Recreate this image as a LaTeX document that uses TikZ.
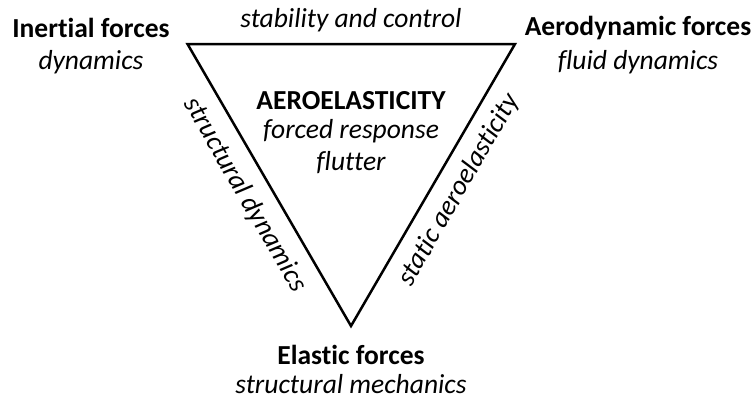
\documentclass[tikz,border=0pt]{standalone}
\usepackage{fontspec}
\setmainfont{Carlito}[Ligatures={NoCommon,TeX}]
\begin{document}
\begin{tikzpicture}[x=1pt,y=-1pt,
  lbl/.style={inner sep=0pt,font=\fontsize{27.5}{33}\selectfont},
  bl/.style={lbl,font=\fontsize{27.5}{33}\selectfont\bfseries},
  it/.style={lbl,font=\fontsize{27.5}{33}\selectfont\itshape}]
\useasboundingbox (0,0) rectangle (754,400);
\coordinate (tl) at (187.5,44);
\coordinate (tr) at (515,44);
\coordinate (bt) at (351,326);
\draw[line width=2.5pt,line join=miter] (tl) -- (tr) -- (bt) -- cycle;
\node[bl] (inert) at (91,28) {Inertial forces};
\node[it] (dyn) at (91,62) {dynamics};
\node[bl] (aero) at (638,28) {Aerodynamic forces};
\node[it] (fluid) at (638,62) {fluid dynamics};
\node[it] (stab) at (351,20) {stability and control};
\node[bl] (ae) at (351,101) {AEROELASTICITY};
\node[it] (forced) at (351,131) {forced response};
\node[it] (flut) at (351,163) {flutter};
\node[it,rotate=-60] (sd) at (245,195) {structural dynamics};
\node[it,rotate=60] (sa) at (459,190) {static aeroelasticity};
\node[bl] (el) at (351,355) {Elastic forces};
\node[it] (sm) at (351,384) {structural mechanics};
\end{tikzpicture}
\end{document}
